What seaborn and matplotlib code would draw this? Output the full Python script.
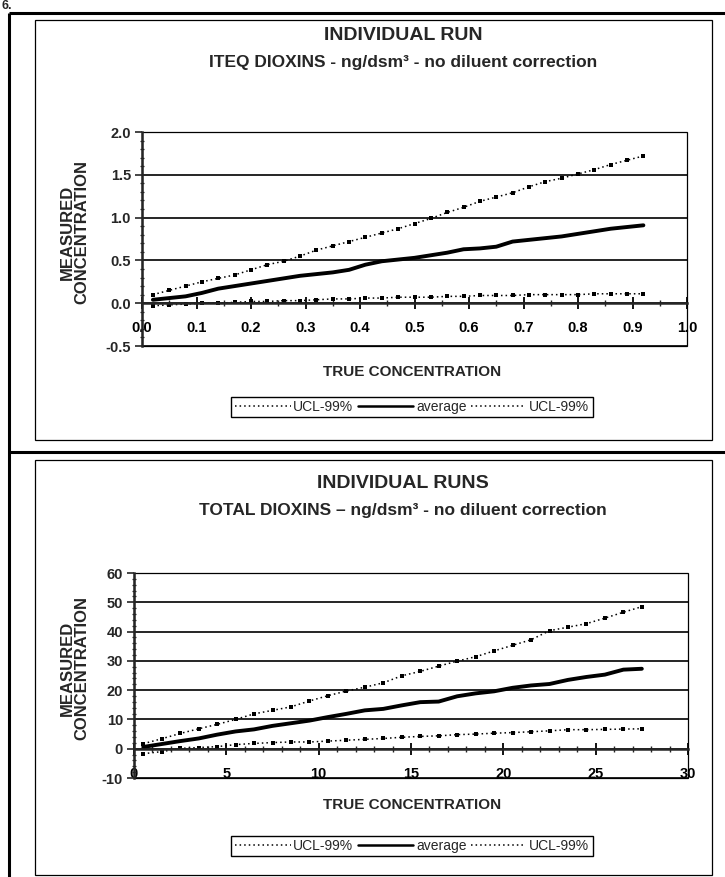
import numpy as np
import pandas as pd
import matplotlib
matplotlib.use('Agg')
import matplotlib.pyplot as plt
from matplotlib.lines import Line2D
from matplotlib.patches import Rectangle
from matplotlib.ticker import MultipleLocator, FormatStrFormatter
import seaborn as sns

sns.set_style('white')
plt.rcParams['font.family'] = ['Liberation Sans', 'DejaVu Sans']

# ---- ITEQ dioxins (top chart) ----
iteq_true = [0.02, 0.05, 0.08, 0.11, 0.14, 0.17, 0.20, 0.23, 0.26, 0.29, 0.32,
             0.35, 0.38, 0.41, 0.44, 0.47, 0.50, 0.53, 0.56, 0.59, 0.62, 0.65,
             0.68, 0.71, 0.74, 0.77, 0.80, 0.83, 0.86, 0.89, 0.92]
iteq_avg = [0.04, 0.06, 0.08, 0.12, 0.17, 0.20, 0.23, 0.26, 0.29, 0.32, 0.34,
            0.36, 0.39, 0.45, 0.49, 0.51, 0.53, 0.56, 0.59, 0.63, 0.64, 0.66,
            0.72, 0.74, 0.76, 0.78, 0.81, 0.84, 0.87, 0.89, 0.91]
iteq_ucl_hi = [0.10, 0.15, 0.20, 0.25, 0.29, 0.33, 0.39, 0.45, 0.49, 0.55, 0.62,
               0.67, 0.72, 0.77, 0.82, 0.87, 0.93, 0.99, 1.06, 1.12, 1.19, 1.24,
               1.29, 1.36, 1.42, 1.46, 1.51, 1.56, 1.62, 1.67, 1.72]
iteq_ucl_lo = [-0.03, -0.02, -0.01, 0.00, 0.00, 0.01, 0.02, 0.02, 0.03, 0.03, 0.04,
               0.05, 0.05, 0.06, 0.06, 0.07, 0.07, 0.07, 0.08, 0.08, 0.09, 0.09,
               0.09, 0.10, 0.10, 0.10, 0.10, 0.11, 0.11, 0.11, 0.11]

# ---- total dioxins (bottom chart) ----
total_true = [0.5, 1.5, 2.5, 3.5, 4.5, 5.5, 6.5, 7.5, 8.5, 9.5, 10.5, 11.5, 12.5, 13.5,
              14.5, 15.5, 16.5, 17.5, 18.5, 19.5, 20.5, 21.5, 22.5, 23.5, 24.5, 25.5,
              26.5, 27.5]
total_avg = [0.6, 1.6, 2.6, 3.5, 4.8, 5.9, 6.6, 7.8, 8.7, 9.6, 10.8, 11.9, 13.1, 13.6,
             14.8, 15.9, 16.1, 17.9, 18.9, 19.6, 20.8, 21.6, 22.1, 23.5, 24.5, 25.3,
             27.0, 27.3]
total_ucl_hi = [1.7, 3.4, 5.2, 6.8, 8.3, 10.0, 11.9, 13.1, 14.3, 16.3, 18.1, 19.7, 21.0,
                22.5, 24.9, 26.4, 28.2, 29.9, 31.4, 33.4, 35.3, 37.2, 40.3, 41.5, 42.7,
                44.6, 46.6, 48.5]
total_ucl_lo = [-1.7, -1.0, 0.1, 0.4, 0.7, 1.4, 1.8, 2.1, 2.3, 2.3, 2.6, 2.9, 3.2, 3.5,
                3.9, 4.2, 4.4, 4.8, 5.0, 5.3, 5.5, 5.8, 6.1, 6.5, 6.5, 6.6, 6.7, 6.8]

W, H = 725, 877
fig = plt.figure(figsize=(W / 100, H / 100), dpi=100)


def fx(px):
    return px / W


def fy(py):
    return 1 - py / H


def rect(l, t, r, b):
    return [fx(l), fy(b), (r - l) / W, (b - t) / H]


def fline(x0, y0, x1, y1, lw):
    fig.add_artist(Line2D([fx(x0), fx(x1)], [fy(y0), fy(y1)], color='black',
                          lw=lw, transform=fig.transFigure, solid_capstyle='butt'))


# panel frames
fline(9, 13, 725, 13, 2.2)
fline(9, 13, 9, 877, 2.2)
fline(9, 452, 725, 452, 2.2)
for t, b in [(20, 440), (460, 875)]:
    fig.add_artist(Rectangle((fx(35), fy(b)), (712 - 35) / W, (b - t) / H, fill=False,
                             lw=0.9, edgecolor='black', transform=fig.transFigure))
fig.text(fx(1), fy(6), '6.', fontsize=9, weight='bold', ha='left', va='center')


def draw(ax, x, avg, hi, lo, ylim, ystep, yminor, xlim, xstep, xminor, fmt):
    dotted = dict(color='black', lw=1.1, linestyle=(0, (1, 2)), marker='s',
                  markersize=2.2, markeredgewidth=0)
    sns.lineplot(x=x, y=lo, ax=ax, label='UCL-99%', sort=False, **dotted)
    sns.lineplot(x=x, y=avg, ax=ax, label='average', sort=False, color='black', lw=2.8)
    sns.lineplot(x=x, y=hi, ax=ax, label='UCL-99%', sort=False, **dotted)
    handles, labels = ax.get_legend_handles_labels()
    ax.get_legend().remove()

    ax.set_xlim(*xlim)
    ax.set_ylim(*ylim)
    ax.xaxis.set_major_locator(MultipleLocator(xstep))
    ax.xaxis.set_minor_locator(MultipleLocator(xminor))
    ax.yaxis.set_major_locator(MultipleLocator(ystep))
    ax.yaxis.set_minor_locator(MultipleLocator(yminor))
    ax.xaxis.set_major_formatter(FormatStrFormatter(fmt))
    ax.yaxis.set_major_formatter(FormatStrFormatter(fmt))
    ax.set_xlabel('')
    ax.set_ylabel('')

    ax.yaxis.grid(True, color='black', lw=1.2)
    ax.xaxis.grid(False)
    for s in ['top', 'right']:
        ax.spines[s].set_visible(False)
    ax.spines['left'].set_linewidth(1.8)
    ax.spines['bottom'].set_position(('data', 0))
    ax.spines['bottom'].set_linewidth(1.8)
    ax.add_patch(Rectangle((0, 0), 1, 1, transform=ax.transAxes, fill=False,
                           lw=0.9, edgecolor='black', clip_on=False))

    ax.tick_params(axis='x', which='major', direction='inout', length=8, width=1.3,
                   pad=9, colors='black')
    ax.tick_params(axis='x', which='minor', direction='inout', length=4, width=1)
    ax.tick_params(axis='y', which='major', direction='out', length=5, width=1.2,
                   pad=3)
    ax.tick_params(axis='y', which='minor', direction='inout', length=3, width=0.9)
    ax.tick_params(axis='both', which='both', bottom=True, left=True)
    for lab in ax.get_xticklabels() + ax.get_yticklabels():
        lab.set_fontsize(10.5)
        lab.set_fontweight('bold')
    return handles, labels


def texts(title, sub, ty, sy, ylab_y, xlab_y, leg_y, handles, labels):
    fig.text(fx(403), fy(ty), title, fontsize=14, weight='bold', ha='center', va='center')
    fig.text(fx(403), fy(sy), sub, fontsize=12.5, weight='bold', ha='center', va='center')
    fig.text(fx(75), fy(ylab_y), 'MEASURED\nCONCENTRATION', fontsize=12, weight='bold',
             rotation=90, ha='center', va='center', linespacing=0.95, multialignment='center')
    fig.text(fx(412), fy(xlab_y), 'TRUE CONCENTRATION', fontsize=11, weight='bold',
             ha='center', va='center')
    leg = fig.legend(handles, labels, loc='center', bbox_to_anchor=(fx(412), fy(leg_y)),
                     ncol=3, frameon=True, fancybox=False, edgecolor='black',
                     framealpha=1, fontsize=10, handlelength=4.0, handletextpad=0.2,
                     columnspacing=0.3, borderpad=0.25, borderaxespad=0)
    leg.get_frame().set_linewidth(1.0)
    for h in leg.legend_handles:
        h.set_marker('')
        if h.get_linewidth() > 2:
            h.set_linewidth(1.8)


# top chart
ax1 = fig.add_axes(rect(142, 132, 687, 346))
h1, l1 = draw(ax1, iteq_true, iteq_avg, iteq_ucl_hi, iteq_ucl_lo,
              (-0.5, 2.0), 0.5, 0.1, (0, 1.0), 0.1, 0.05, '%.1f')
texts('INDIVIDUAL RUN', 'ITEQ DIOXINS - ng/dsm³ - no diluent correction',
      36, 62, 232, 372, 407, h1, l1)

# bottom chart
ax2 = fig.add_axes(rect(134, 573, 688, 778))
h2, l2 = draw(ax2, total_true, total_avg, total_ucl_hi, total_ucl_lo,
              (-10, 60), 10, 2, (0, 30), 5, 1, '%d')
texts('INDIVIDUAL RUNS', 'TOTAL DIOXINS – ng/dsm³ - no diluent correction',
      484, 510, 668, 805, 846, h2, l2)

fig.savefig('out.png', dpi=100)
